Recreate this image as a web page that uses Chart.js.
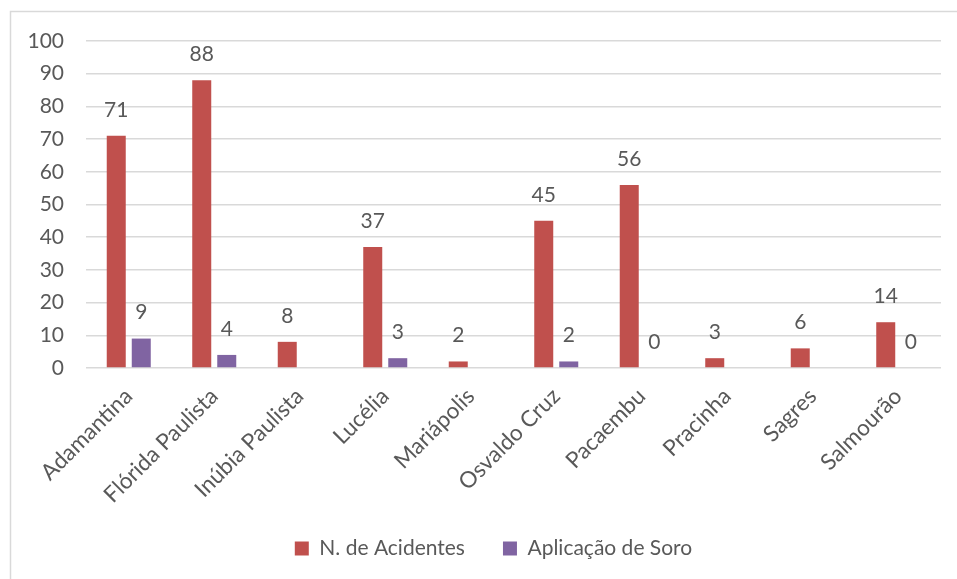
<!DOCTYPE html>
<html>
<head>
<meta charset="utf-8">
<script src="https://cdn.jsdelivr.net/npm/chart.js@4.4.0/dist/chart.umd.min.js"></script>
<style>
html,body{margin:0;padding:0;background:#fff;}
#wrap{position:absolute;left:0;top:0;width:957px;height:579px;}
</style>
</head>
<body>
<div id="wrap"><canvas id="c" width="957" height="579"></canvas></div>
<script>
const categories = ["Adamantina","Flórida Paulista","Inúbia Paulista","Lucélia","Mariápolis","Osvaldo Cruz","Pacaembu","Pracinha","Sagres","Salmourão"];
const acidentes = [71, 88, 8, 37, 2, 45, 56, 3, 6, 14];
const soro = [9, 4, null, 3, null, 2, 0, null, null, 0];
const seriesNames = ["N. de Acidentes", "Aplicação de Soro"];
const yTicks = [0, 10, 20, 30, 40, 50, 60, 70, 80, 90, 100];

const FONT = "Lato, 'Open Sans', sans-serif";
const TXT = "#595959";

const frame = {
  id: 'frame',
  beforeDraw(chart) {
    const ctx = chart.ctx;
    ctx.save();
    ctx.fillStyle = '#fff';
    ctx.fillRect(0, 0, chart.width, chart.height);
    ctx.strokeStyle = '#d9d9d9';
    ctx.lineWidth = 1.5;
    ctx.beginPath();
    ctx.moveTo(10.5, chart.height);
    ctx.lineTo(10.5, 11.5);
    ctx.lineTo(chart.width, 11.5);
    ctx.stroke();
    ctx.restore();
  }
};

const legendShift = {
  id: 'legendShift',
  afterLayout(chart) {
    const lg = chart.legend;
    if (!lg) return;
    lg.top -= 12; lg.bottom -= 12;
    lg.left += 13; lg.right += 13;
  }
};

const valueLabels = {
  id: 'valueLabels',
  afterDatasetsDraw(chart) {
    const ctx = chart.ctx;
    ctx.save();
    ctx.font = "21px " + FONT;
    ctx.fillStyle = TXT;
    ctx.textAlign = 'center';
    ctx.textBaseline = 'middle';
    chart.data.datasets.forEach((ds, i) => {
      const meta = chart.getDatasetMeta(i);
      meta.data.forEach((el, j) => {
        const v = ds.data[j];
        if (v === null || v === undefined) return;
        ctx.fillText(String(v), el.x, el.y - 26);
      });
    });
    ctx.restore();
  }
};

new Chart(document.getElementById('c'), {
  type: 'bar',
  data: {
    labels: categories,
    datasets: [
      { label: seriesNames[0], data: acidentes, backgroundColor: '#C0504D', categoryPercentage: 0.585, barPercentage: 0.76 },
      { label: seriesNames[1], data: soro, backgroundColor: '#8064A2', categoryPercentage: 0.585, barPercentage: 0.76 }
    ]
  },
  options: {
    responsive: false,
    animation: false,
    devicePixelRatio: 1,
    layout: { padding: { left: 20, right: 16, top: 41, bottom: -2 } },
    plugins: {
      legend: {
        position: 'bottom',
        labels: {
          font: { family: FONT, size: 21 },
          color: TXT,
          boxWidth: 14,
          boxHeight: 14,
          padding: 38
        }
      },
      tooltip: { enabled: false }
    },
    scales: {
      x: {
        grid: { display: false },
        border: { display: false },
        ticks: {
          font: { family: FONT, size: 22.5 },
          color: TXT,
          minRotation: 45,
          maxRotation: 45,
          autoSkip: false,
          padding: 7
        },
        afterFit(s) { s.height = 144; }
      },
      y: {
        min: 0, max: 100,
        afterBuildTicks(s) { s.ticks = yTicks.map(v => ({ value: v })); },
        grid: { color: '#d9d9d9', lineWidth: 1.5, drawTicks: false },
        border: { display: false },
        ticks: {
          font: { family: FONT, size: 21 },
          color: TXT,
          padding: 22
        },
        afterFit(s) { s.width = 66; }
      }
    }
  },
  plugins: [frame, legendShift, valueLabels]
});
</script>
</body>
</html>
